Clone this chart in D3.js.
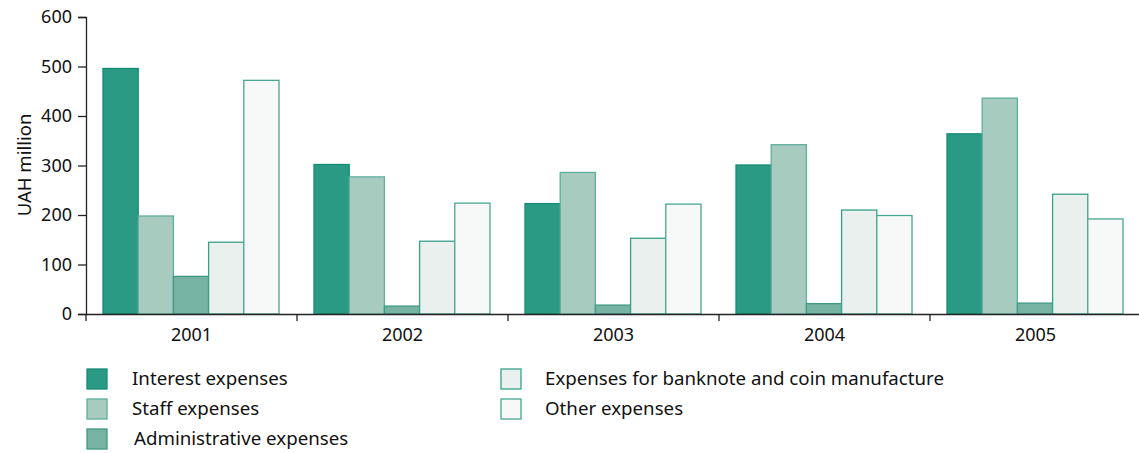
<!DOCTYPE html>
<html>
<head>
<meta charset="utf-8">
<script src="https://cdn.jsdelivr.net/npm/d3@7"></script>
<style>
  html, body { margin: 0; padding: 0; background: #fff; }
  svg { display: block; font-family: "Noto Sans", "Open Sans", sans-serif; }
</style>
</head>
<body>
<svg id="chart" width="1139" height="453"></svg>
<script>
// Years on the x axis
const years = ["2001", "2002", "2003", "2004", "2005"];
// Expense series (UAH million)
const seriesNames = [
  "Interest expenses",
  "Staff expenses",
  "Administrative expenses",
  "Expenses for banknote and coin manufacture",
  "Other expenses"
];
const interestExpenses = [496, 302, 223, 301, 364];
const staffExpenses = [198, 277, 286, 342, 436];
const administrativeExpenses = [76, 16, 18, 21, 22];
const banknoteExpenses = [145, 147, 153, 210, 242];
const otherExpenses = [472, 224, 222, 199, 192];
const yTicks = [0, 100, 200, 300, 400, 500, 600];

const seriesValues = [interestExpenses, staffExpenses, administrativeExpenses, banknoteExpenses, otherExpenses];
const fills = ["#2a9a85", "#a8cbc0", "#76b3a2", "#e9f0ed", "#f7f9f8"];
const strokes = ["#148c75", "#5fae9b", "#3f9a84", "#3aa08a", "#4aa691"];

const svg = d3.select("#chart");
const plotLeft = 86, plotRight = 1141, plotTop = 17, plotBottom = 314;

const x0 = d3.scaleBand().domain(years).range([plotLeft, plotRight]).paddingInner(0).paddingOuter(0);
const x1 = d3.scaleBand().domain(d3.range(seriesNames.length))
  .range([17, x0.bandwidth() - 18]).padding(0);
const y = d3.scaleLinear().domain([0, 600]).range([plotBottom, plotTop]);

// Bars
years.forEach((yr, i) => {
  const g = svg.append("g").attr("transform", `translate(${x0(yr)},0)`);
  seriesValues.forEach((vals, s) => {
    g.append("rect")
      .attr("x", x1(s))
      .attr("y", y(vals[i]))
      .attr("width", x1.bandwidth())
      .attr("height", y(0) - y(vals[i]))
      .attr("fill", fills[s])
      .attr("stroke", strokes[s])
      .attr("stroke-width", 1.3);
  });
});

// Y axis
const yAxis = d3.axisLeft(y).tickValues(yTicks).tickSize(8).tickPadding(6);
const gy = svg.append("g").attr("transform", `translate(${plotLeft},0)`).call(yAxis);
gy.select(".domain").attr("stroke", "#222").attr("stroke-width", 1.3);
gy.selectAll(".tick line").attr("stroke", "#222").attr("stroke-width", 1.3);
gy.selectAll(".tick text").attr("font-size", 18).attr("fill", "#111")
  .style("font-family", '"Noto Sans", sans-serif');

// X axis: baseline with boundary ticks between years
const xAxis = d3.axisBottom(x0).tickSize(0).tickPadding(14);
const gx = svg.append("g").attr("transform", `translate(0,${plotBottom})`).call(xAxis);
gx.select(".domain").attr("stroke", "#222").attr("stroke-width", 1.5);
gx.selectAll(".tick text").attr("font-size", 18).attr("fill", "#111")
  .style("font-family", '"Noto Sans", sans-serif');
gx.selectAll(".boundary").data(years)
  .enter().append("line")
  .attr("class", "boundary")
  .attr("x1", d => x0(d)).attr("x2", d => x0(d))
  .attr("y1", 0).attr("y2", 7)
  .attr("stroke", "#222").attr("stroke-width", 1.3);

// Y axis title
svg.append("text")
  .attr("transform", `translate(31,165) rotate(-90)`)
  .attr("text-anchor", "middle")
  .attr("font-size", 18.5).attr("fill", "#111")
  .text("UAH million");

// Legend
const legendPos = [
  { x: 87, y: 369 }, { x: 87, y: 399 }, { x: 87, y: 429 },
  { x: 501, y: 369 }, { x: 501, y: 399 }
];
const textX = [132, 132, 134, 545, 545];
seriesNames.forEach((name, s) => {
  const p = legendPos[s];
  svg.append("rect")
    .attr("x", p.x).attr("y", p.y).attr("width", 20).attr("height", 20)
    .attr("fill", fills[s]).attr("stroke", strokes[s]).attr("stroke-width", 1.3);
  svg.append("text")
    .attr("x", textX[s]).attr("y", p.y + 16)
    .attr("font-size", 18.7).attr("fill", "#111")
    .text(name);
});
</script>
</body>
</html>
